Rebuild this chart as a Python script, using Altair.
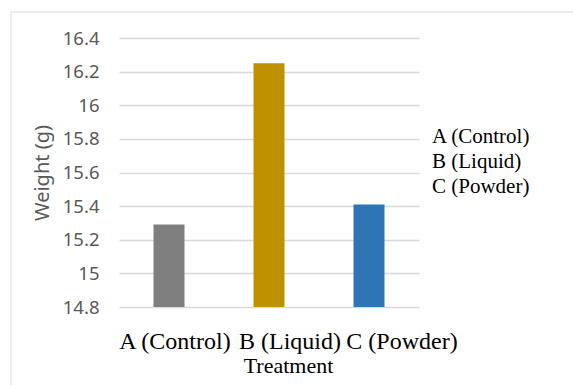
import altair as alt
import pandas as pd

categories = ["A (Control)", "B (Liquid)", "C (Powder)"]
weights = [15.29, 16.25, 15.41]
colors = ["#7f7f7f", "#bf9000", "#2e75b6"]
y_ticks = [14.8, 15.0, 15.2, 15.4, 15.6, 15.8, 16.0, 16.2, 16.4]

df = pd.DataFrame({"Treatment": categories, "Weight": weights})

W, H = 300, 269

frame = alt.Chart(pd.DataFrame({"a": [0]})).mark_rect(
    filled=False, stroke="#d9d9d9", strokeWidth=1
).encode(
    x=alt.value(-108), x2=alt.value(470), y=alt.value(-26), y2=alt.value(360)
)

bars = alt.Chart(df).mark_bar(size=31, clip=True).encode(
    x=alt.X(
        "Treatment:N",
        sort=categories,
        scale=alt.Scale(paddingInner=0.69, paddingOuter=0.345),
        axis=alt.Axis(
            title="Treatment",
            titleFont="Liberation Serif",
            titleFontSize=22,
            titleFontWeight="normal",
            titleColor="black",
            titleX=169,
            titleY=65,
            titleAlign="center",
            titleBaseline="alphabetic",
            labelFont="Liberation Serif",
            labelFontSize=24,
            labelColor="black",
            labelAngle=0,
            labelPadding=22,
            labelOverlap=False,
            labelOffset={
                "condition": [
                    {"test": "datum.value == 'A (Control)'", "value": 6},
                    {"test": "datum.value == 'B (Liquid)'", "value": 21},
                ],
                "value": 33,
            },
            ticks=False,
            tickSize=0,
            domain=False,
            grid=False,
        ),
    ),
    y=alt.Y(
        "Weight:Q",
        scale=alt.Scale(domain=[14.8, 16.4], zero=False, nice=False),
        axis=alt.Axis(
            values=y_ticks,
            format=".1~f",
            title="Weight (g)",
            titleFont="Noto Sans",
            titleFontSize=20,
            titleFontWeight="normal",
            titleColor="#595959",
            titleX=-77,
            titleY=H / 2,
            titleAngle=-90,
            titleAlign="center",
            titleBaseline="middle",
            labelFont="Noto Sans",
            labelFontSize=18.5,
            labelColor="#595959",
            labelPadding=20,
            ticks=False,
            tickSize=0,
            domain=False,
            grid=True,
            gridColor="#d9d9d9",
            gridWidth=1.5,
        ),
    ),
    color=alt.Color(
        "Treatment:N",
        sort=categories,
        scale=alt.Scale(domain=categories, range=colors),
        legend=alt.Legend(
            title=None,
            orient="none",
            legendX=292,
            legendY=88,
            symbolSize=0,
            symbolOpacity=0,
            symbolStrokeWidth=0,
            labelOffset=0,
            padding=0,
            rowPadding=3,
            labelFont="Liberation Serif",
            labelFontSize=21,
            labelColor="black",
        ),
    ),
)

chart = alt.layer(frame, bars).properties(
    width=W,
    height=H,
    autosize=alt.AutoSizeParams(type="none"),
    padding={"left": 119, "top": 38, "right": 154, "bottom": 78},
    background="white",
).configure_view(stroke=None)

chart.save("out.html", embed_options={"renderer": "svg", "actions": False})
